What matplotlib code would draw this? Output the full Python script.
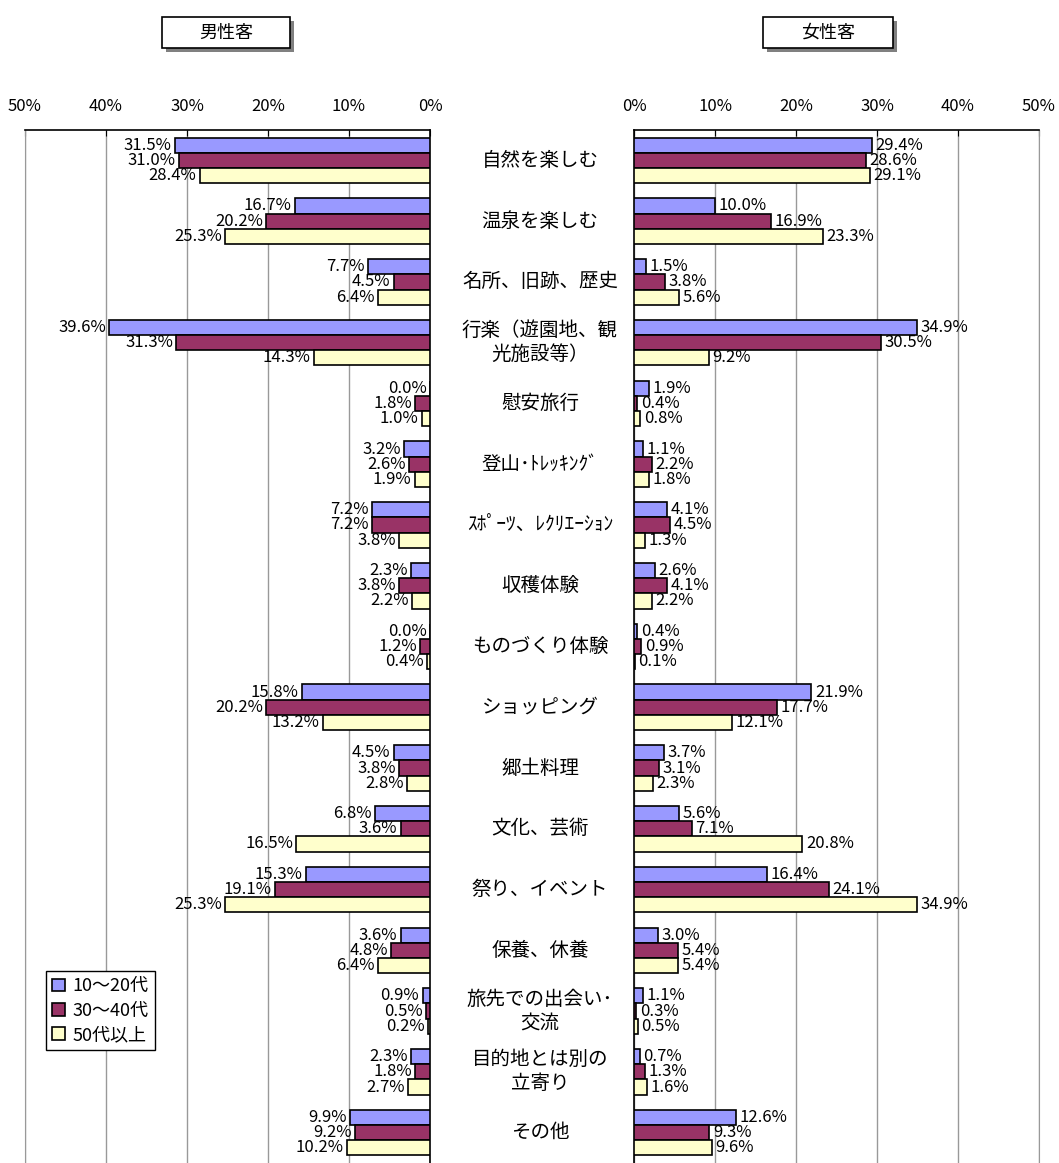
import matplotlib
matplotlib.use("Agg")
import matplotlib.pyplot as plt
from matplotlib.patches import Rectangle
from matplotlib.transforms import blended_transform_factory

plt.rcParams['font.family'] = ['Noto Sans CJK JP', 'DejaVu Sans']

categories = ["自然を楽しむ", "温泉を楽しむ", "名所、旧跡、歴史", "行楽（遊園地、観\n光施設等）",
              "慰安旅行", "登山･ﾄﾚｯｷﾝｸﾞ", "ｽﾎﾟｰﾂ、ﾚｸﾘｴｰｼｮﾝ", "収穫体験", "ものづくり体験",
              "ショッピング", "郷土料理", "文化、芸術", "祭り、イベント", "保養、休養",
              "旅先での出会い･\n交流", "目的地とは別の\n立寄り", "その他"]
series = ["10～20代", "30～40代", "50代以上"]

male_10_20 = [31.5, 16.7, 7.7, 39.6, 0.0, 3.2, 7.2, 2.3, 0.0, 15.8, 4.5, 6.8, 15.3, 3.6, 0.9, 2.3, 9.9]
male_30_40 = [31.0, 20.2, 4.5, 31.3, 1.8, 2.6, 7.2, 3.8, 1.2, 20.2, 3.8, 3.6, 19.1, 4.8, 0.5, 1.8, 9.2]
male_50 = [28.4, 25.3, 6.4, 14.3, 1.0, 1.9, 3.8, 2.2, 0.4, 13.2, 2.8, 16.5, 25.3, 6.4, 0.2, 2.7, 10.2]

female_10_20 = [29.4, 10.0, 1.5, 34.9, 1.9, 1.1, 4.1, 2.6, 0.4, 21.9, 3.7, 5.6, 16.4, 3.0, 1.1, 0.7, 12.6]
female_30_40 = [28.6, 16.9, 3.8, 30.5, 0.4, 2.2, 4.5, 4.1, 0.9, 17.7, 3.1, 7.1, 24.1, 5.4, 0.3, 1.3, 9.3]
female_50 = [29.1, 23.3, 5.6, 9.2, 0.8, 1.8, 1.3, 2.2, 0.1, 12.1, 2.3, 20.8, 34.9, 5.4, 0.5, 1.6, 9.6]

ticks = [0, 10, 20, 30, 40, 50]
colors = ["#9999FF", "#993366", "#FFFFCC"]

W, H = 1059, 1163
fig = plt.figure(figsize=(W / 100, H / 100), dpi=100)

top = 1 - 130 / H
ax_l = fig.add_axes([25 / W, 0, 405 / W, top])
ax_r = fig.add_axes([634 / W, 0, 405 / W, top])

n = len(categories)
ypos = list(range(n))
bh = 0.25

male = [male_10_20, male_30_40, male_50]
female = [female_10_20, female_30_40, female_50]

for ax, data, side in [(ax_l, male, "L"), (ax_r, female, "R")]:
    for k, vals in enumerate(data):
        ys = [y + (k - 1) * bh for y in ypos]
        ax.barh(ys, vals, height=bh, color=colors[k], edgecolor="black",
                linewidth=1.2, label=series[k], zorder=3)
        for y, v in zip(ys, vals):
            if side == "L":
                ax.annotate(f"{v:.1f}%", (v, y), xytext=(-2.5, 0), textcoords="offset points",
                            ha="right", va="center", fontsize=12, zorder=4)
            else:
                ax.annotate(f"{v:.1f}%", (v, y), xytext=(2.5, 0), textcoords="offset points",
                            ha="left", va="center", fontsize=12, zorder=4)
    ax.set_ylim(n - 0.5, -0.5)
    ax.set_yticks([])
    ax.set_xticks(ticks)
    ax.set_xticklabels([f"{t}%" for t in ticks], fontsize=12)
    ax.xaxis.tick_top()
    ax.tick_params(axis="x", direction="in", length=4, pad=11, color="black")
    ax.grid(axis="x", color="#999999", linewidth=1, zorder=0)
    ax.spines["bottom"].set_visible(False)
    ax.spines["top"].set_linewidth(1.2)

ax_l.set_xlim(50, 0)
ax_r.set_xlim(0, 50)
ax_l.spines["left"].set_color("#999999")
ax_l.spines["right"].set_linewidth(1.2)
ax_r.spines["right"].set_color("#999999")
ax_r.spines["left"].set_linewidth(1.2)

# category names in the middle
trans = blended_transform_factory(ax_r.transAxes, ax_r.transData)
for y, c in zip(ypos, categories):
    ax_r.text((540 - 634) / 405, y, c, transform=trans, ha="center", va="center",
              fontsize=14, linespacing=1.2, clip_on=False)

# legend
ax_l.legend(loc="upper left", bbox_to_anchor=(46 / W, 1 - 971 / H), bbox_transform=fig.transFigure,
            fancybox=False, framealpha=1, edgecolor="black", fontsize=13,
            handlelength=0.7, handleheight=0.7, handletextpad=0.4, labelspacing=0.35,
            borderpad=0.35, borderaxespad=0)

# title boxes with shadow
for x0, x1, txt in [(162, 290, "男性客"), (763, 893, "女性客")]:
    y0, y1 = 17, 48
    fig.add_artist(Rectangle(((x0 + 4) / W, 1 - (y1 + 4) / H), (x1 - x0) / W, (y1 - y0) / H,
                             transform=fig.transFigure, facecolor="#808080", edgecolor="none"))
    fig.add_artist(Rectangle((x0 / W, 1 - y1 / H), (x1 - x0) / W, (y1 - y0) / H,
                             transform=fig.transFigure, facecolor="white", edgecolor="black",
                             linewidth=1.2))
    fig.text((x0 + x1) / 2 / W, 1 - (y0 + y1) / 2 / H, txt, ha="center", va="center", fontsize=13)

fig.savefig("out.png", dpi=100)
